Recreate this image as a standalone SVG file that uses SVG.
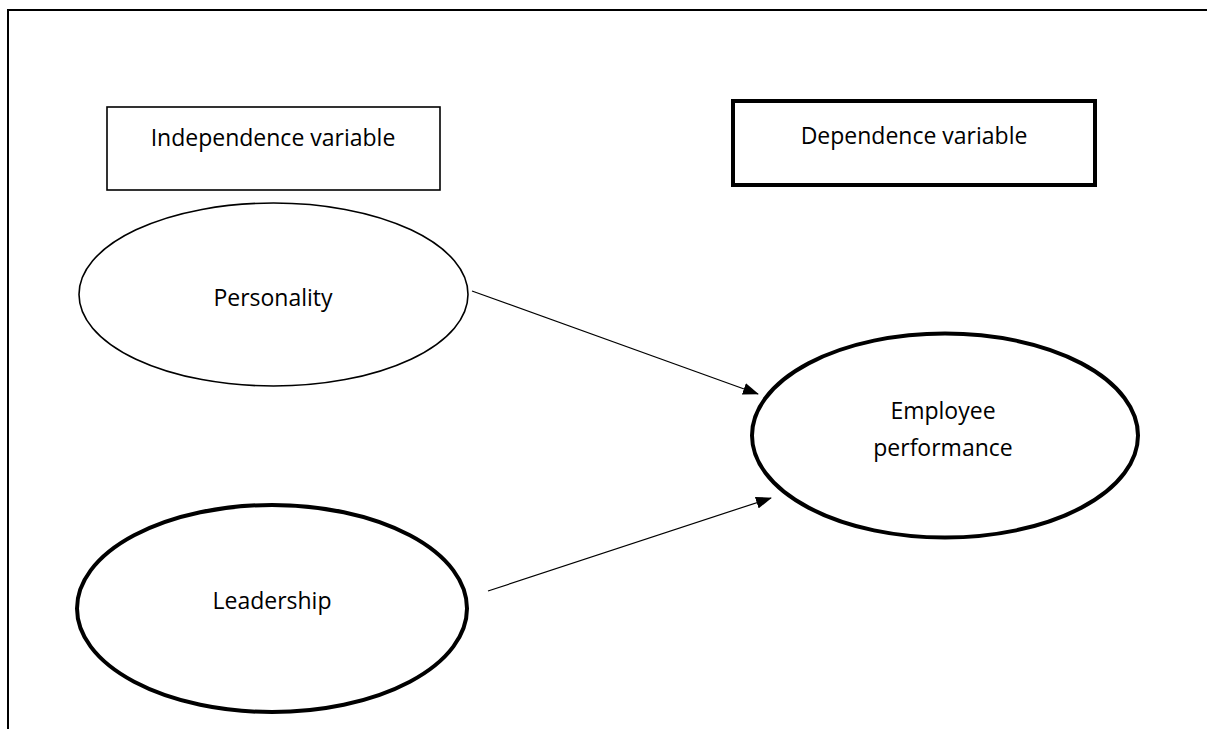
<svg xmlns="http://www.w3.org/2000/svg" width="1207" height="729" viewBox="0 0 1207 729">
<style>
.lbl{font-family:"Open Sans","Liberation Sans",sans-serif;font-size:23px;fill:#000;text-anchor:middle}
.thin{fill:#fff;stroke:#000;stroke-width:1.6}
.thick{fill:#fff;stroke:#000;stroke-width:4}
.conn{stroke:#000;stroke-width:1.2;fill:none}
</style>
<defs>
<marker id="ah" markerWidth="16" markerHeight="12" refX="15" refY="6" orient="auto" markerUnits="userSpaceOnUse">
<path d="M0,0 L16,6 L0,12 Z" fill="#000"/>
</marker>
</defs>
<rect width="1207" height="729" fill="#fff"/>
<path d="M8,729 L8,10 L1207,10" fill="none" stroke="#000" stroke-width="2"/>
<g id="independence">
<rect class="thin" x="107" y="107" width="333" height="83"/>
<text class="lbl" x="273" y="146">Independence variable</text>
</g>
<g id="dependence">
<rect class="thick" x="733" y="101" width="362" height="84"/>
<text class="lbl" x="914" y="144">Dependence variable</text>
</g>
<g id="personality">
<ellipse class="thin" cx="273.5" cy="294.5" rx="194.5" ry="91.5"/>
<text class="lbl" x="273" y="306">Personality</text>
</g>
<g id="leadership">
<ellipse class="thick" cx="272" cy="608.5" rx="195" ry="103.5"/>
<text class="lbl" x="272" y="609">Leadership</text>
</g>
<g id="employee">
<ellipse class="thick" cx="945" cy="435.5" rx="193" ry="102"/>
<text class="lbl" x="943" y="419">Employee</text>
<text class="lbl" x="943" y="456">performance</text>
</g>
<g id="connectors">
<line class="conn" x1="472" y1="291" x2="758" y2="394" marker-end="url(#ah)"/>
<line class="conn" x1="488" y1="591" x2="771" y2="498" marker-end="url(#ah)"/>
</g>
</svg>
